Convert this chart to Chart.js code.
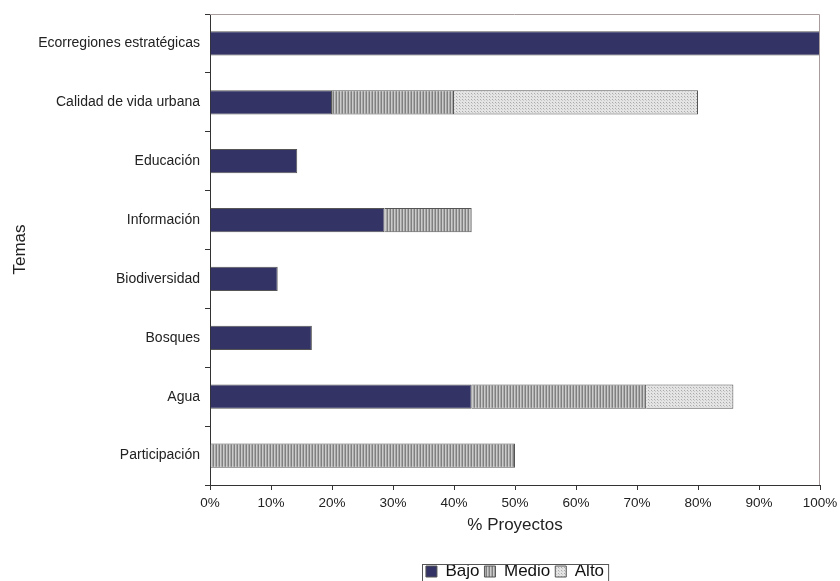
<!DOCTYPE html>
<html>
<head>
<meta charset="utf-8">
<script src="https://cdn.jsdelivr.net/npm/chart.js@4.4.0/dist/chart.umd.min.js"></script>
<style>
  body { margin: 0; background: #fff; }
  #wrap { width: 840px; height: 581px; }
</style>
</head>
<body>
<div id="wrap"><canvas id="chart" width="840" height="581"></canvas></div>
<script>
const temas = ["Ecorregiones estratégicas", "Calidad de vida urbana", "Educación", "Información",
  "Biodiversidad", "Bosques", "Agua", "Participación"];
const bajo = [100, 20, 14.3, 28.6, 11.1, 16.7, 42.9, null];
const medio = [null, 20, null, 14.3, null, null, 28.6, 50];
const alto = [null, 40, null, null, null, null, 14.3, null];
const xTicks = [0, 10, 20, 30, 40, 50, 60, 70, 80, 90, 100];

// fill patterns like the old spreadsheet hatches
function makePattern(w, h, draw) {
  const c = document.createElement("canvas");
  c.width = w; c.height = h;
  const g = c.getContext("2d");
  draw(g);
  return document.getElementById("chart").getContext("2d").createPattern(c, "repeat");
}
const stripes = makePattern(3, 1, g => {
  g.fillStyle = "#808080"; g.fillRect(0, 0, 1, 1);
  g.fillStyle = "#cccccc"; g.fillRect(1, 0, 1, 1);
  g.fillStyle = "#a8a8a8"; g.fillRect(2, 0, 1, 1);
});
const dots = makePattern(3, 3, g => {
  g.fillStyle = "#e4e4e4"; g.fillRect(0, 0, 3, 3);
  g.fillStyle = "#aaaaaa"; g.fillRect(0, 0, 1, 1);
  g.fillStyle = "#c8c8c8"; g.fillRect(1, 1, 1, 1);
});

const frame = {
  id: "frame",
  afterLayout(chart) {
    // legend sits a bit lower in the original
    chart.legend.top += 9;
    chart.legend.bottom += 9;
  },
  afterDraw(chart) {
    const ctx = chart.ctx, a = chart.chartArea;
    ctx.save();
    ctx.strokeStyle = "#a89c9c";
    ctx.lineWidth = 1;
    ctx.beginPath();
    ctx.moveTo(a.left, a.top + 0.5);
    ctx.lineTo(a.right - 0.5, a.top + 0.5);
    ctx.lineTo(a.right - 0.5, a.bottom);
    ctx.stroke();
    // box round the legend
    const boxes = chart.legend.legendHitBoxes;
    if (boxes && boxes.length) {
      const l = Math.min(...boxes.map(b => b.left));
      const r = Math.max(...boxes.map(b => b.left + b.width));
      const mid = boxes[0].top + boxes[0].height / 2;
      ctx.strokeStyle = "#555";
      ctx.strokeRect(Math.round(l) - 3.5, Math.round(mid - 8) + 0.5, r - l + 8, 40);
    }
    ctx.restore();
  }
};

new Chart(document.getElementById("chart"), {
  type: "bar",
  data: {
    labels: temas,
    datasets: [
      { label: "Bajo", data: bajo, backgroundColor: "#333366", borderColor: "#555", borderWidth: 1 },
      { label: "Medio", data: medio, backgroundColor: stripes, borderColor: "#555", borderWidth: 1 },
      { label: "Alto", data: alto, backgroundColor: dots, borderColor: "#555", borderWidth: 1 }
    ]
  },
  options: {
    indexAxis: "y",
    responsive: false,
    animation: false,
    barPercentage: 0.41,
    categoryPercentage: 1,
    layout: { padding: { top: 14, right: 20, left: 0, bottom: 0 } },
    scales: {
      x: {
        stacked: true,
        min: 0, max: 100,
        afterBuildTicks: s => { s.ticks = xTicks.map(v => ({ value: v })); },
        afterFit: s => { s.height = 64; s.paddingLeft = 0; s.paddingRight = 0; },
        grid: { drawOnChartArea: false, tickLength: 5, color: "#333" },
        border: { color: "#333" },
        ticks: { color: "#222", font: { family: "Liberation Sans", size: 13.5 }, padding: 5,
          callback: v => v + "%" },
        title: { display: true, text: "% Proyectos", color: "#222",
          font: { family: "Liberation Sans", size: 17 }, padding: { top: 4, bottom: 13 } }
      },
      y: {
        stacked: true,
        afterFit: s => { s.width = 210; },
        grid: { drawOnChartArea: false, tickLength: 5, color: "#333", offset: true },
        border: { color: "#333" },
        ticks: { color: "#222", font: { family: "Liberation Sans", size: 14 }, padding: 5 },
        title: { display: true, text: "Temas", color: "#222",
          font: { family: "Liberation Sans", size: 17 }, padding: 10 }
      }
    },
    plugins: {
      legend: {
        position: "bottom",
        fullSize: false,
        labels: { color: "#111", font: { family: "Liberation Sans", size: 17 },
          boxWidth: 11, boxHeight: 11, padding: 5 }
      },
      tooltip: { enabled: false }
    }
  },
  plugins: [frame]
});
</script>
</body>
</html>
